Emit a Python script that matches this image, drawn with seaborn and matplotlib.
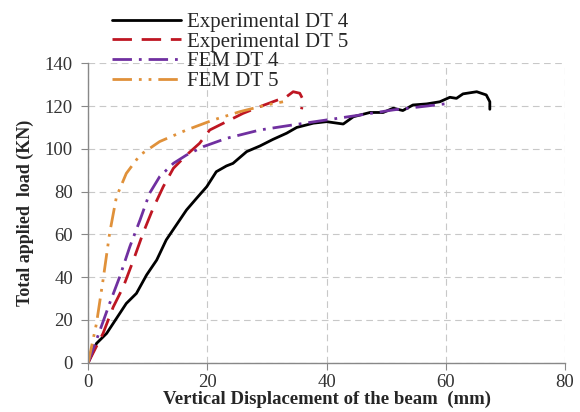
import matplotlib
matplotlib.use("Agg")
import matplotlib.pyplot as plt
import seaborn as sns
import pandas as pd

# Experimental DT 4
exp4_x = [0, 1.4, 3.1, 4.75, 6.4, 8.1, 9.8, 11.5, 13.1, 14.8, 16.5, 18.2, 19.9, 21.5, 23.2, 24.3,
          26.6, 28.8, 31, 33.3, 35, 37.8, 40, 42.8, 44.5, 47.3, 49.5, 51.2, 52.8, 54.5, 56.8, 59,
          60.7, 61.8, 62.9, 65.2, 66.8, 67.4, 67.4]
exp4_y = [0, 9, 13.7, 20.7, 27.7, 32.4, 41, 48, 57.4, 64.4, 71.4, 76.9, 82.3, 89.3, 92, 93.2,
          98.7, 101.3, 104.4, 107.3, 110, 112, 112.7, 111.6, 115, 117, 117, 119, 117.9, 120.5, 121, 122,
          124.1, 123.6, 125.7, 126.7, 125.2, 122, 118.5]
# Experimental DT 5
exp5_x = [0, 2.5, 4.2, 5.9, 7.6, 9.2, 10.9, 12.6, 14.3, 16.5, 18.7, 20.4, 23.2, 26, 28.8, 31,
          33.3, 34.4, 35.5, 36.1, 35.8]
exp5_y = [0, 13.7, 26, 35.5, 48, 60.5, 72.2, 82.3, 90.9, 97.1, 102.6, 108.8, 112.7, 116.6, 119.7, 122,
          124.4, 126.7, 126, 122.8, 118.5]
# FEM DT 4
fem4_x = [0, 2, 3.6, 5.3, 7, 8.7, 10.3, 12, 14.3, 16.5, 19.3, 23.2, 28.8, 34.4, 40, 45.6, 51.2, 56.8, 60.7]
fem4_y = [0, 15.3, 27.7, 40.2, 54.3, 66.7, 79.2, 87, 93.2, 97.1, 101, 104.9, 108.8, 111.2, 113.5, 115.8,
          118.2, 120, 121.3]
# FEM DT 5
fem5_x = [0, 1.4, 2.5, 3.6, 4.75, 6.4, 8.7, 12, 16.5, 21, 25.5, 29.9, 32.7]
fem5_y = [0, 18.4, 38.7, 60.5, 77.6, 88.5, 97.1, 103.4, 108.8, 113.5, 117.4, 120.5, 122]

series = [
    ("Experimental DT 4", exp4_x, exp4_y, "#000000", (None, None)),
    ("Experimental DT 5", exp5_x, exp5_y, "#BE1622", (7, 3.5)),
    ("FEM DT 4", fem4_x, fem4_y, "#7030A0", (7, 2.5, 1, 2.5)),
    ("FEM DT 5", fem5_x, fem5_y, "#E0913A", (7, 2.5, 1, 2.5, 1, 2.5)),
]

sns.set_style("white")
plt.rcParams['font.family'] = ['Liberation Serif', 'DejaVu Serif']

fig = plt.figure(figsize=(5.8, 4.12), dpi=100)
ax = fig.add_axes([0.152, 0.1197, 0.822, 0.7267])

for name, xs, ys, color, dash in series:
    df = pd.DataFrame({"x": xs, "y": ys})
    sns.lineplot(data=df, x="x", y="y", ax=ax, sort=False, estimator=None,
                 color=color, linewidth=2, label=name)
    line = ax.get_lines()[-1]
    if dash[0] is not None:
        line.set_dashes(dash)

ax.set_xlim(0, 80)
ax.set_ylim(0, 140)
ax.set_xticks([0, 20, 40, 60, 80])
ax.set_yticks(range(0, 141, 20))
ax.grid(True, color="#C8C8C8", linestyle=(0, (6, 4)), linewidth=0.8)
for s in ["top", "right"]:
    ax.spines[s].set_visible(False)
for s in ["left", "bottom"]:
    ax.spines[s].set_color("#888888")
    ax.spines[s].set_linewidth(1)
ax.tick_params(axis="both", which="major", direction="out", length=5, color="#888888",
               labelsize=13.5, labelcolor="#333333", bottom=True, left=True)
ax.tick_params(axis="y", pad=6)
ax.tick_params(axis="x", pad=3)
ax.set_xlabel("Vertical Displacement of the beam  (mm)", fontsize=13.5, fontweight="bold",
              labelpad=0)
ax.set_ylabel("Total applied  load (KN)", fontsize=13, fontweight="bold", labelpad=8)

h, l = ax.get_legend_handles_labels()
ax.get_legend().remove()
fig.legend(h, l, loc="upper left", bbox_to_anchor=(0.172, 1.0), frameon=False,
           fontsize=15, handlelength=3.3, handletextpad=0.3, labelspacing=0.0,
           borderaxespad=0.2)

fig.savefig("out.png", dpi=100)
